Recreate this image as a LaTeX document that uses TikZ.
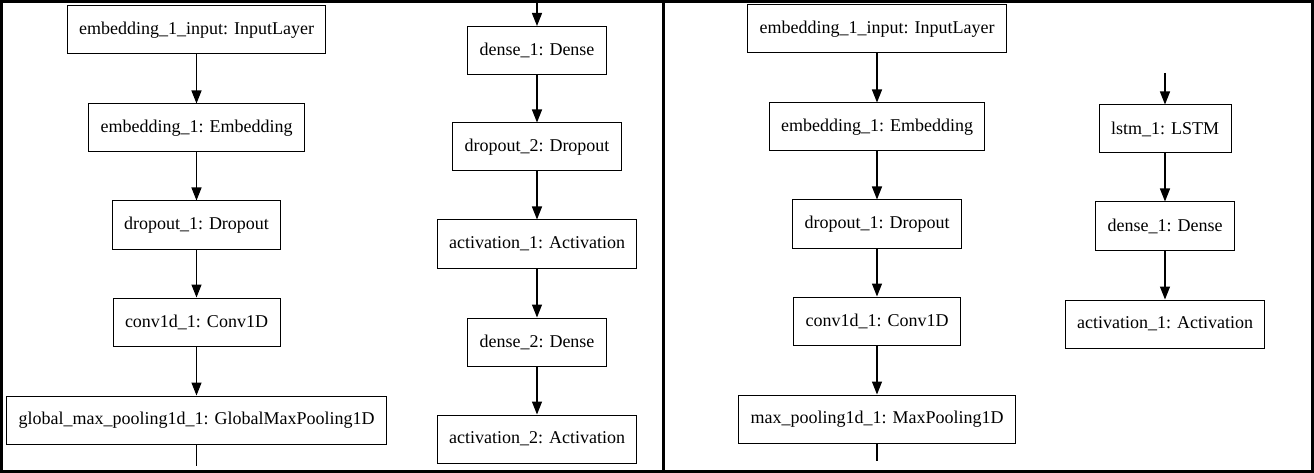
\documentclass[tikz,border=0pt]{standalone}
\usepackage{fontspec}
\setmainfont{Liberation Serif}
\usepackage{tikz}
\usetikzlibrary{arrows.meta}
\tikzset{layer/.style={rectangle,draw,line width=1pt,minimum height=48pt,inner xsep=12pt,font=\fontsize{18}{20}\selectfont}}

\begin{document}
\begin{tikzpicture}[x=1pt,y=-1pt,>={Triangle[length=13pt,width=10pt]},line width=1.2pt]
    \useasboundingbox (0,0) rectangle (1314,473);
    \draw [line width=3pt] (1.5,1.5) rectangle (1312.5,471.5);
    \draw [line width=3pt] (663,0) -- (663,473);

    % left model
    \node[layer] (inpA) at (196.5,30) {embedding\_1\_input: InputLayer};
    \node[layer] (embA) at (196.5,128) {embedding\_1: Embedding};
    \node[layer] (dropA) at (196.5,225) {dropout\_1: Dropout};
    \node[layer] (convA) at (196.5,322) {conv1d\_1: Conv1D};
    \node[layer] (poolA) at (196.5,420) {global\_max\_pooling1d\_1: GlobalMaxPooling1D};
    \coordinate (outA) at (196.5,466);
    \coordinate (inA) at (537,0);
    \node[layer] (denseA) at (537,50.5) {dense\_1: Dense};
    \node[layer] (drop2A) at (537,147) {dropout\_2: Dropout};
    \node[layer] (act1A) at (537,244) {activation\_1: Activation};
    \node[layer] (dense2A) at (537,342) {dense\_2: Dense};
    \node[layer] (act2A) at (537,439) {activation\_2: Activation};

    \draw [->] (inpA) to (embA);
    \draw [->] (embA) to (dropA);
    \draw [->] (dropA) to (convA);
    \draw [->] (convA) to (poolA);
    \draw [] (poolA) to (outA);
    \draw [->] (inA) to (denseA);
    \draw [->] (denseA) to (drop2A);
    \draw [->] (drop2A) to (act1A);
    \draw [->] (act1A) to (dense2A);
    \draw [->] (dense2A) to (act2A);

    % right model
    \node[layer] (inpB) at (877,29) {embedding\_1\_input: InputLayer};
    \node[layer] (embB) at (877,127) {embedding\_1: Embedding};
    \node[layer] (dropB) at (877,224) {dropout\_1: Dropout};
    \node[layer] (convB) at (877,321) {conv1d\_1: Conv1D};
    \node[layer] (poolB) at (877,419) {max\_pooling1d\_1: MaxPooling1D};
    \coordinate (outB) at (877,461);
    \coordinate (inB) at (1165,73);
    \node[layer] (lstmB) at (1165,129) {lstm\_1: LSTM};
    \node[layer] (denseB) at (1165,226) {dense\_1: Dense};
    \node[layer] (actB) at (1165,324) {activation\_1: Activation};

    \draw [->] (inpB) to (embB);
    \draw [->] (embB) to (dropB);
    \draw [->] (dropB) to (convB);
    \draw [->] (convB) to (poolB);
    \draw [] (poolB) to (outB);
    \draw [->] (inB) to (lstmB);
    \draw [->] (lstmB) to (denseB);
    \draw [->] (denseB) to (actB);
\end{tikzpicture}
\end{document}
